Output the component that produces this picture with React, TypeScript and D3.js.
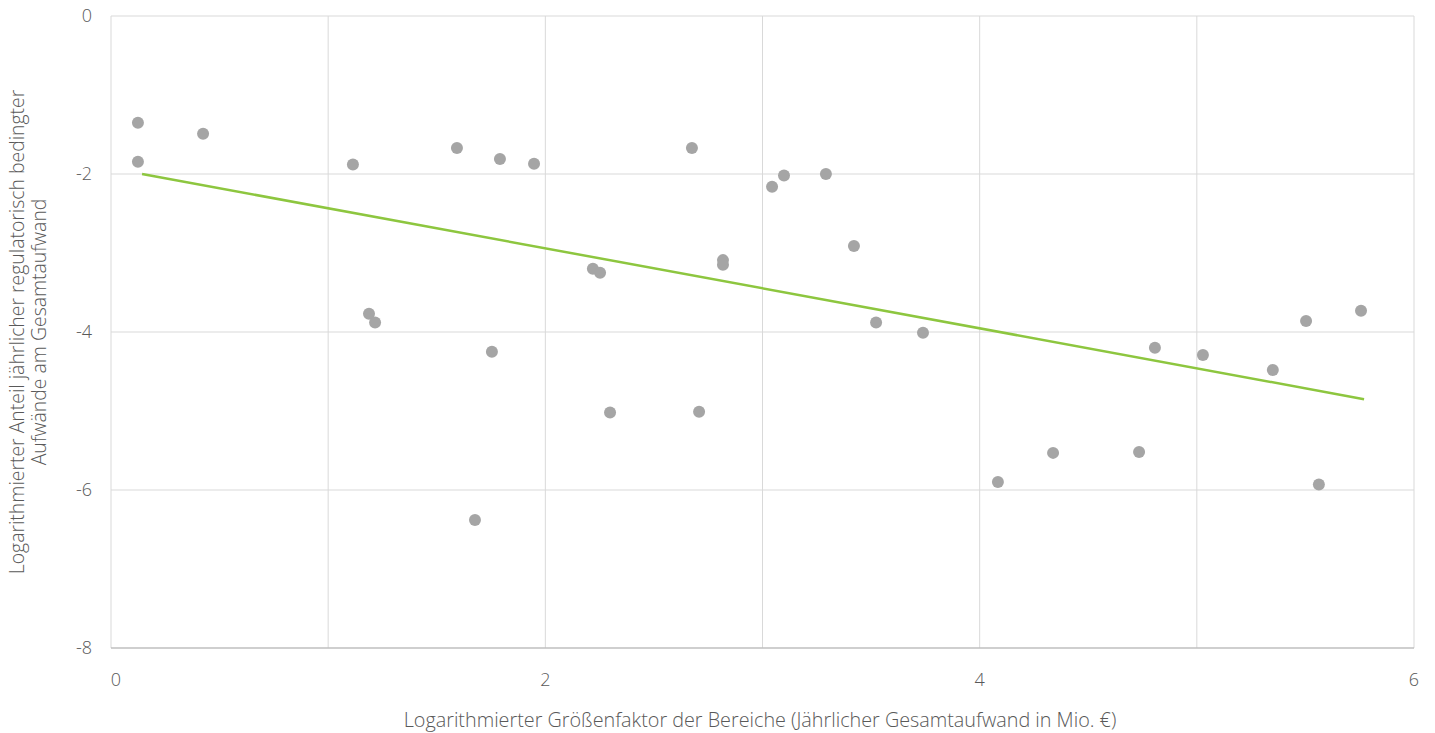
import React, { useEffect, useRef } from "react";
import * as d3 from "d3";

// Logarithmierte Werte
const sizeFactor = [
  0.124, 0.124, 0.424, 1.114, 1.188, 1.216, 1.593, 1.676, 1.754, 1.791, 1.948,
  2.219, 2.252, 2.298, 2.675, 2.708, 2.818, 2.818, 3.044, 3.099, 3.292, 3.421,
  3.523, 3.739, 4.084, 4.338, 4.734, 4.807, 5.028, 5.35, 5.503, 5.562, 5.756,
];
const regShare = [
  -1.34, -1.835, -1.48, -1.87, -3.76, -3.87, -1.66, -6.37, -4.24, -1.8, -1.86,
  -3.19, -3.24, -5.01, -1.66, -5.0, -3.08, -3.14, -2.15, -2.01, -1.99, -2.9,
  -3.87, -4.0, -5.89, -5.52, -5.51, -4.19, -4.28, -4.47, -3.85, -5.92, -3.72,
];
// Trendlinie (Anfang / Ende)
const trendX = [0.143, 5.77];
const trendY = [-2.0, -4.85];

const xTicks = [0, 1, 2, 3, 4, 5, 6];
const xTickLabels = ["0", "", "2", "", "4", "", "6"];
const yTicks = [0, -2, -4, -6, -8];

const xTitle = "Logarithmierter Größenfaktor der Bereiche (Jährlicher Gesamtaufwand in Mio. €)";
const yTitle = ["Logarithmierter Anteil jährlicher regulatorisch bedingter", "Aufwände am Gesamtaufwand"];

const App = () => {
  const ref = useRef<SVGSVGElement>(null);

  useEffect(() => {
    const width = 1435;
    const height = 733;
    const m = { left: 111, right: 21, top: 16, bottom: 85 };
    const font = "'Open Sans', sans-serif";
    const textColor = "#595959";

    const svg = d3.select(ref.current);
    svg.selectAll("*").remove();

    const x = d3.scaleLinear().domain([0, 6]).range([m.left, width - m.right]);
    const y = d3.scaleLinear().domain([-8, 0]).range([height - m.bottom, m.top]);

    // gridlines
    svg
      .append("g")
      .selectAll("line")
      .data(xTicks)
      .join("line")
      .attr("x1", (d) => x(d))
      .attr("x2", (d) => x(d))
      .attr("y1", y(0))
      .attr("y2", y(-8))
      .attr("stroke", "#d9d9d9")
      .attr("stroke-width", 1);

    svg
      .append("g")
      .selectAll("line")
      .data(yTicks.filter((d) => d !== -8))
      .join("line")
      .attr("x1", x(0))
      .attr("x2", x(6))
      .attr("y1", (d) => y(d))
      .attr("y2", (d) => y(d))
      .attr("stroke", "#d9d9d9")
      .attr("stroke-width", 1);

    // bottom axis line
    svg
      .append("line")
      .attr("x1", x(0))
      .attr("x2", x(6))
      .attr("y1", y(-8))
      .attr("y2", y(-8))
      .attr("stroke", "#bfbfbf")
      .attr("stroke-width", 1.3);

    // tick labels
    svg
      .append("g")
      .selectAll("text")
      .data(yTicks)
      .join("text")
      .attr("x", x(0) - 19)
      .attr("y", (d) => y(d))
      .attr("dy", "0.35em")
      .attr("text-anchor", "end")
      .attr("font-family", font)
      .attr("font-weight", 300)
      .attr("font-size", 18)
      .attr("fill", textColor)
      .text((d) => String(d));

    svg
      .append("g")
      .selectAll("text")
      .data(xTicks)
      .join("text")
      .attr("x", (d) => x(d) + (d === 0 ? 5 : 0))
      .attr("y", y(-8) + 38)
      .attr("text-anchor", "middle")
      .attr("font-family", font)
      .attr("font-weight", 300)
      .attr("font-size", 18)
      .attr("fill", textColor)
      .text((d, i) => xTickLabels[i]);

    // axis titles
    svg
      .append("text")
      .attr("x", 760)
      .attr("y", 727)
      .attr("text-anchor", "middle")
      .attr("font-family", font)
      .attr("font-weight", 300)
      .attr("font-size", 19.8)
      .attr("fill", textColor)
      .text(xTitle);

    const yt = svg
      .append("text")
      .attr("transform", `translate(24, ${(y(0) + y(-8)) / 2}) rotate(-90)`)
      .attr("text-anchor", "middle")
      .attr("font-family", font)
      .attr("font-weight", 300)
      .attr("font-size", 19.4)
      .attr("fill", textColor);
    yt.selectAll("tspan")
      .data(yTitle)
      .join("tspan")
      .attr("x", 0)
      .attr("dy", (d, i) => (i === 0 ? 0 : 22))
      .text((d) => d);

    // points
    svg
      .append("g")
      .selectAll("circle")
      .data(sizeFactor)
      .join("circle")
      .attr("cx", (d) => x(d))
      .attr("cy", (d, i) => y(regShare[i]) + 0.8)
      .attr("r", 6)
      .attr("fill", "#a5a5a5");

    // trend line
    svg
      .append("path")
      .datum(trendX.map((d, i) => [d, trendY[i]] as [number, number]))
      .attr(
        "d",
        d3
          .line<[number, number]>()
          .x((d) => x(d[0]))
          .y((d) => y(d[1]))
      )
      .attr("fill", "none")
      .attr("stroke", "#8dc63f")
      .attr("stroke-width", 2.5);
  }, []);

  return (
    <svg
      ref={ref}
      width={1435}
      height={733}
      style={{ position: "absolute", left: 0, top: 0, background: "#fff" }}
    ></svg>
  );
};

export default App;
